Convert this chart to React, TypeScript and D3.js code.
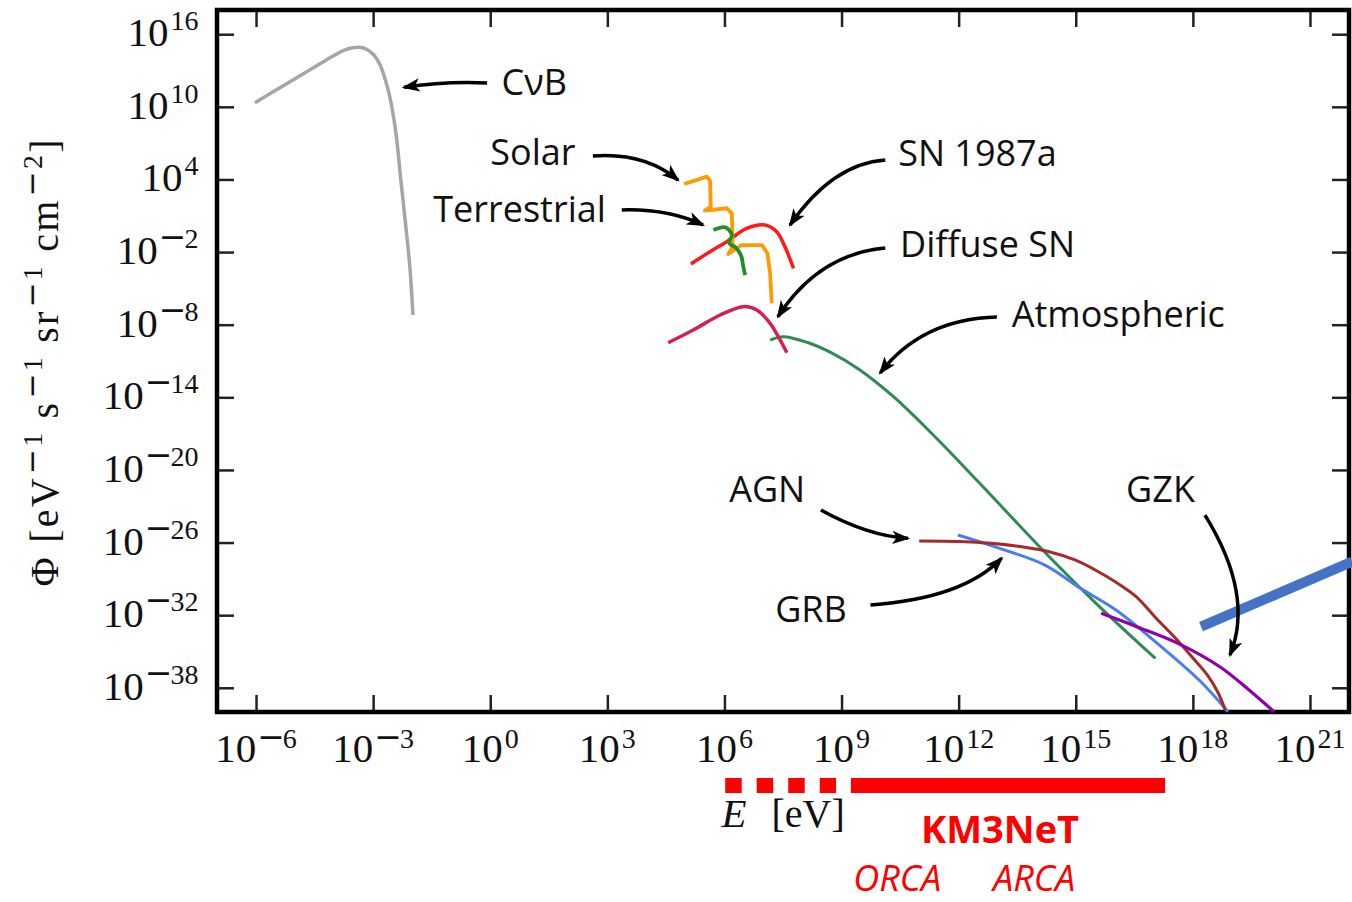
import React, { useEffect, useRef } from "react";
import * as d3 from "d3";

// decades that carry a tick on each axis
const xTickExps = [-6, -3, 0, 3, 6, 9, 12, 15, 18, 21];
const yTickExps = [16, 10, 4, -2, -8, -14, -20, -26, -32, -38];

// fluxes as [log10(E / eV), log10(Phi)]
const cnbFlux = [[-6.03, 10.34], [-5.13, 12.08], [-4.36, 13.56], [-3.98, 14.28], [-3.72, 14.7], [-3.52, 14.88], [-3.31, 14.9], [-3.16, 14.74], [-2.98, 14.28], [-2.82, 13.46], [-2.67, 12.05], [-2.54, 10.32], [-2.41, 7.67], [-2.29, 3.95], [-2.18, 0.65], [-2.06, -3.23], [-1.98, -7.2]];
const solarFlux = [[4.97, 3.62], [5.55, 4.23], [5.63, 3.9], [5.65, 1.75], [5.5, 1.42], [6.06, 1.62], [6.19, 1.2], [6.21, -1.56], [6.1, -2.16], [6.44, -1.42], [6.96, -1.42], [7.1, -2.1], [7.17, -3.75], [7.21, -6.23]];
const terrestrialFlux = [[5.72, -0.18], [6.02, 0.05], [6.19, -0.59], [6.12, -1.25], [6.3, -1.66], [6.43, -2.33], [6.48, -3.15], [6.53, -3.9]];
const sn1987aFlux = [[5.14, -2.99], [5.63, -1.97], [6.06, -1.14], [6.57, -0.04], [7.04, 0.24], [7.34, -0.32], [7.55, -1.56], [7.77, -3.34]];
const diffuseSnFlux = [[4.56, -9.49], [5.2, -8.44], [5.89, -7.2], [6.48, -6.51], [6.83, -6.79], [7.17, -7.89], [7.38, -8.99], [7.6, -10.32]];
const atmosphericFlux = [[7.17, -9.27], [7.51, -8.99], [8.15, -9.49], [8.71, -10.26], [9.47, -11.74], [10.33, -13.95], [11.4, -17.28], [12.46, -20.83], [14.32, -27.17], [15.62, -31.33], [17.04, -35.57]];
const agnFlux = [[10.99, -25.87], [12.04, -25.91], [12.83, -26.06], [13.57, -26.33], [14.32, -26.76], [14.98, -27.44], [15.5, -28.27], [16.06, -29.34], [16.56, -30.5], [17.03, -32.15], [17.55, -33.89], [17.98, -35.46], [18.37, -36.94], [18.65, -38.43], [18.83, -39.84]];
const grbFlux = [[11.98, -25.38], [13.05, -26.48], [14.21, -27.86], [15.11, -29.76], [16.03, -31.57], [17.09, -34.33], [18.16, -37.36], [18.9, -39.98]];
const gzkFlux = [[15.65, -31.85], [16.56, -32.95], [17.62, -34.33], [18.69, -36.26], [19.44, -38.18], [20.08, -39.98]];
const uheLimit = [[18.21, -32.95], [22.08, -27.58]];

// KM3NeT sensitivity ranges, log10(E / eV)
const orcaRange = [6.02, 8.86];
const arcaRange = [9.24, 17.29];

// annotation labels: text, baseline start [logE, logPhi]
const labelTexts = ["C\u03bdB", "Solar", "Terrestrial", "SN 1987a", "Diffuse SN", "Atmospheric", "AGN", "GRB", "GZK"];
const labelAt = [[0.29, 10.98], [0.0, 5.19], [-1.46, 0.48], [10.45, 5.11], [10.5, -2.38], [13.36, -8.17], [6.12, -22.65], [7.3, -32.57], [16.29, -22.65]];
// arrows: tail, bend (quadratic control), head
const arrowTail = [[-0.08, 11.97], [2.63, 5.94], [3.37, 1.48], [10.12, 5.61], [10.12, -1.66], [12.98, -7.37], [8.47, -23.31], [9.74, -31.16], [18.31, -23.73]];
const arrowBend = [[-1.16, 12.13], [3.95, 6.27], [4.54, 1.6], [8.77, 5.32], [8.41, -2.16], [11.06, -7.53], [9.68, -25.46], [12.11, -30.62], [19.58, -30.34]];
const arrowHead = [[-2.21, 11.61], [4.81, 3.95], [5.45, 0.24], [7.68, 0.24], [7.37, -7.34], [9.99, -11.99], [10.7, -25.65], [13.1, -27.3], [18.95, -35.29]];

const series = [
  { pts: cnbFlux, color: "#a6a6a6", w: 3.5, curve: d3.curveCatmullRom },
  { pts: sn1987aFlux, color: "#ff1a1a", w: 3.5, curve: d3.curveCatmullRom },
  { pts: solarFlux, color: "#ff9a00", w: 3.8, curve: d3.curveLinear },
  { pts: terrestrialFlux, color: "#1f8f2a", w: 3.8, curve: d3.curveCatmullRom },
  { pts: atmosphericFlux, color: "#2e8b57", w: 3, curve: d3.curveCatmullRom },
  { pts: diffuseSnFlux, color: "#d4204f", w: 3.5, curve: d3.curveCatmullRom },
  { pts: grbFlux, color: "#4a7ef0", w: 3, curve: d3.curveCatmullRom },
  { pts: agnFlux, color: "#a52a2a", w: 3, curve: d3.curveCatmullRom },
  { pts: gzkFlux, color: "#8f00a8", w: 3.2, curve: d3.curveCatmullRom },
  { pts: uheLimit, color: "#4472c4", w: 10, curve: d3.curveLinear },
];

const serif = "'Liberation Serif', 'Times New Roman', serif";
const sans = "'Open Sans', 'DejaVu Sans', sans-serif";

function power(sel: any, exp: number, raise: number) {
  sel.append("tspan").text("10");
  if (exp < 0) {
    sel.append("tspan").attr("dx", 1).attr("dy", -raise)
      .style("font-family", "'DejaVu Sans'").style("font-size", "33px").text("\u2212");
    sel.append("tspan").attr("dx", -2).style("font-size", "28px").text(String(-exp));
  } else {
    sel.append("tspan").attr("dx", 2).attr("dy", -raise).style("font-size", "28px").text(String(exp));
  }
}

export default function App() {
  const ref = useRef<SVGSVGElement>(null);

  useEffect(() => {
    const svg = d3.select(ref.current).html("");
    const x = d3.scaleLog().domain([1e-7, 1e22]).range([217, 1349]);
    const y = d3.scaleLog().domain([1e-40, 1e18]).range([712, 10]);
    const px = (d: number[]) => x(10 ** d[0]);
    const py = (d: number[]) => y(10 ** d[1]);
    const [x0, x1] = x.range();
    const [y1, y0] = y.range();

    const defs = svg.append("defs");
    defs.append("marker").attr("id", "head")
      .attr("viewBox", "0 -6 16 12").attr("refX", 14).attr("refY", 0)
      .attr("markerUnits", "userSpaceOnUse").attr("markerWidth", 18).attr("markerHeight", 14)
      .attr("orient", "auto")
      .append("path").attr("d", "M0,-6L16,0L0,6L4,0Z").attr("fill", "#000");

    // ticks, inward on all four sides
    const xt = xTickExps.map((e) => 10 ** e);
    const yt = yTickExps.map((e) => 10 ** e);
    const tickLen = 17;
    svg.append("g").attr("transform", `translate(0,${y1})`).call(d3.axisTop(x).tickValues(xt).tickSize(tickLen).tickFormat(() => ""));
    svg.append("g").attr("transform", `translate(0,${y0})`).call(d3.axisBottom(x).tickValues(xt).tickSize(tickLen).tickFormat(() => ""));
    svg.append("g").attr("transform", `translate(${x0},0)`).call(d3.axisRight(y).tickValues(yt).tickSize(tickLen).tickFormat(() => ""));
    svg.append("g").attr("transform", `translate(${x1},0)`).call(d3.axisLeft(y).tickValues(yt).tickSize(tickLen).tickFormat(() => ""));
    svg.selectAll(".domain").remove();
    svg.selectAll(".tick line").attr("stroke", "#222").attr("stroke-width", 2.5);

    svg.append("rect").attr("x", x0).attr("y", y0).attr("width", x1 - x0).attr("height", y1 - y0)
      .attr("fill", "none").attr("stroke", "#000").attr("stroke-width", 4.5);

    // tick labels
    xTickExps.forEach((e) => {
      const t = svg.append("text").attr("x", x(10 ** e)).attr("y", 762).attr("text-anchor", "middle")
        .style("font-family", serif).style("font-size", "41px").attr("fill", "#111");
      power(t, e, 14);
    });
    yTickExps.forEach((e) => {
      const t = svg.append("text").attr("x", 198.5).attr("y", y(10 ** e) + 12).attr("text-anchor", "end")
        .style("font-family", serif).style("font-size", "41px").attr("fill", "#111");
      power(t, e, 16);
    });

    // y title
    const yTitle = svg.append("text").attr("transform", `translate(58,${(y0 + y1) / 2 + 2}) rotate(-90)`)
      .attr("text-anchor", "middle").attr("textLength", 447).attr("lengthAdjust", "spacing")
      .style("font-family", serif).style("font-size", "40px").attr("fill", "#111");
    const parts = [["\u03a6 [eV", "1"], [" s", "1"], [" sr", "1"], [" cm", "2"]];
    parts.forEach(([base, ex], i) => {
      yTitle.append("tspan").attr("dy", i === 0 ? 0 : 16).text(base);
      yTitle.append("tspan").attr("dx", 2).attr("dy", -16).style("font-family", "'DejaVu Sans'").style("font-size", "30px").text("\u2212");
      yTitle.append("tspan").style("font-size", "28px").text(ex);
    });
    yTitle.append("tspan").attr("dy", 16).text("]");

    // x title
    svg.append("text").attr("x", x(1e6) - 3).attr("y", 827)
      .style("font-family", serif).style("font-size", "41px").style("font-style", "italic").attr("fill", "#111").text("E");
    svg.append("text").attr("x", x(1e6) + 47).attr("y", 827)
      .style("font-family", serif).style("font-size", "40px").attr("fill", "#111").text("[eV]");

    // spectra
    series.forEach((s) => {
      const line = d3.line<number[]>().x(px).y(py).curve(s.curve as any);
      svg.append("path").attr("d", line(s.pts)).attr("fill", "none")
        .attr("stroke", s.color).attr("stroke-width", s.w)
        .attr("stroke-linejoin", "round").attr("stroke-linecap", "butt");
    });

    // annotations
    labelTexts.forEach((txt, i) => {
      svg.append("text").attr("x", px(labelAt[i])).attr("y", py(labelAt[i]))
        .style("font-family", sans).style("font-size", "36px").attr("fill", "#111").text(txt);
      const a = arrowTail[i], b = arrowBend[i], c = arrowHead[i];
      svg.append("path")
        .attr("d", `M${px(a)},${py(a)}Q${px(b)},${py(b)} ${px(c)},${py(c)}`)
        .attr("fill", "none").attr("stroke", "#000").attr("stroke-width", 3.5)
        .attr("marker-end", "url(#head)");
    });

    // KM3NeT ranges
    const barY = 785.5;
    svg.append("line").attr("x1", x(10 ** orcaRange[0])).attr("x2", x(10 ** orcaRange[1]))
      .attr("y1", barY).attr("y2", barY).attr("stroke", "#ff0000").attr("stroke-width", 15)
      .attr("stroke-dasharray", "16.5 15");
    svg.append("line").attr("x1", x(10 ** arcaRange[0])).attr("x2", x(10 ** arcaRange[1]))
      .attr("y1", barY).attr("y2", barY).attr("stroke", "#ff0000").attr("stroke-width", 15);

    svg.append("text").attr("x", x(10 ** 13.06)).attr("y", 843).attr("text-anchor", "middle")
      .style("font-family", sans).style("font-size", "38px").style("font-weight", "bold")
      .attr("fill", "#ff0000").text("KM3NeT");
    svg.append("text").attr("x", x(10 ** 9.3)).attr("y", 891)
      .style("font-family", sans).style("font-size", "36px").style("font-style", "italic")
      .attr("fill", "#ff0000").text("ORCA");
    svg.append("text").attr("x", x(10 ** 12.88)).attr("y", 891)
      .style("font-family", sans).style("font-size", "36px").style("font-style", "italic")
      .attr("fill", "#ff0000").text("ARCA");
  }, []);

  return (
    <svg ref={ref} width={1352} height={902}
      style={{ position: "absolute", left: 0, top: 0, background: "#fff" }} />
  );
}
